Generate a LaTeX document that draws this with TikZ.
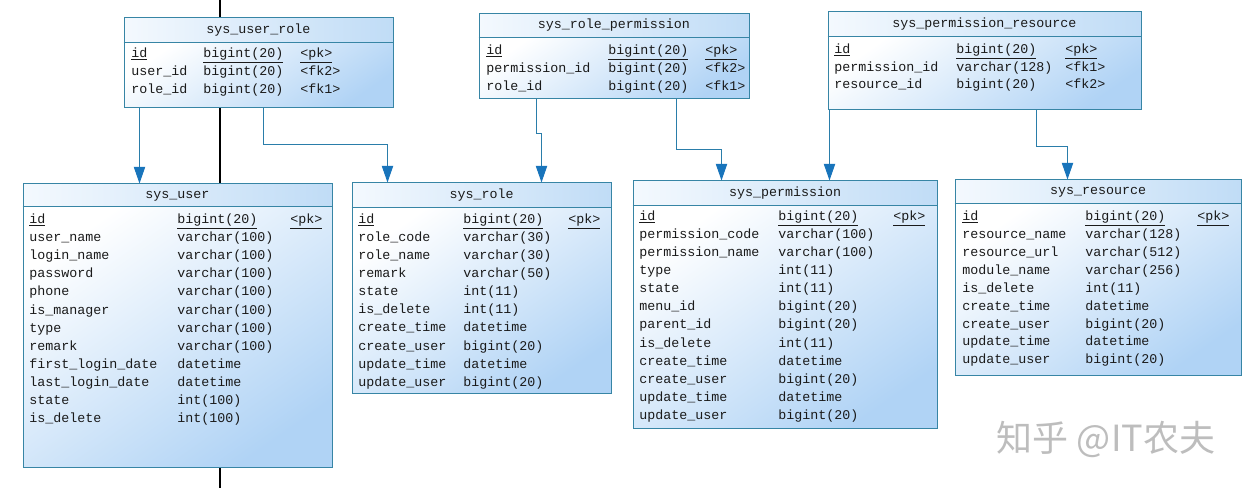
\documentclass[tikz,border=0pt]{standalone}
\usepackage{fontspec}
\setmonofont{Liberation Mono}
\newfontfamily\cjkfont{Noto Sans CJK SC}
\usetikzlibrary{fit,calc,arrows.meta}
\definecolor{bd}{HTML}{3785A5}
\definecolor{cn}{HTML}{2A7DAA}
\definecolor{ah}{HTML}{1874BB}
\definecolor{bodyblue}{HTML}{B0D3F5}
\definecolor{headl}{HTML}{F4F9FE}
\definecolor{headr}{HTML}{C0DCF6}
\definecolor{txt}{HTML}{1A1A1A}
\definecolor{wmark}{HTML}{BDBDBD}
\tikzset{
  tblbody/.style={inner sep=0pt, top color=white, bottom color=bodyblue, shading angle=35},
  tblhead/.style={inner sep=0pt, left color=headl, right color=headr},
  tblframe/.style={draw=bd, line width=0.75pt, inner sep=0pt},
  sepline/.style={draw=bd, line width=0.75pt},
  cell/.style={anchor=west, inner sep=0pt, text=txt, font=\ttfamily\fontsize{10}{12}\selectfont, text height=7.5pt, text depth=2.5pt},
  ttl/.style={anchor=center, inner sep=0pt, text=txt, font=\ttfamily\fontsize{10}{12}\selectfont, text height=7.5pt, text depth=2.5pt},
  conn/.style={draw=cn, line width=0.75pt, -{Triangle[width=8.5pt,length=12.5pt,fill=ah,color=ah]}},
}
\begin{document}
\begin{tikzpicture}[x=0.75pt,y=-0.75pt]
\useasboundingbox (0,0) rectangle (1252,488);
\fill[white] (0,0) rectangle (1252,488);
% stray vertical line
\coordinate (vtop) at (220,0);
\coordinate (vbot) at (220,488);
\draw[black, line width=0.8pt] (vtop) -- (vbot);

% ---------- sys_user_role ----------
\node[tblbody, fit={(124,42)(393,108)}] (ur-body) {};
\node[tblhead, fit={(124,18)(393,42)}] (ur-head) {};
\node[tblframe, fit={(124,18)(393,108)}] (ur) {};
\draw[sepline] (ur-head.south west) -- (ur-head.south east);
\node[ttl] (ur-t) at (ur-head.center) {sys\_user\_role};
\node[cell] (ur-a0) at (131,54) {\underline{id}};
\node[cell] (ur-b0) at (203,54) {\underline{bigint(20)}};
\node[cell] (ur-c0) at (300,54) {\underline{<pk>}};
\node[cell] (ur-a1) at (131,72) {user\_id};
\node[cell] (ur-b1) at (203,72) {bigint(20)};
\node[cell] (ur-c1) at (300,72) {<fk2>};
\node[cell] (ur-a2) at (131,90) {role\_id};
\node[cell] (ur-b2) at (203,90) {bigint(20)};
\node[cell] (ur-c2) at (300,90) {<fk1>};

% ---------- sys_role_permission ----------
\node[tblbody, fit={(479,37)(749,99)}] (rp-body) {};
\node[tblhead, fit={(479,14)(749,37)}] (rp-head) {};
\node[tblframe, fit={(479,14)(749,99)}] (rp) {};
\draw[sepline] (rp-head.south west) -- (rp-head.south east);
\node[ttl] (rp-t) at (rp-head.center) {sys\_role\_permission};
\node[cell] (rp-a0) at (486,51) {\underline{id}};
\node[cell] (rp-b0) at (608,51) {\underline{bigint(20)}};
\node[cell] (rp-c0) at (705,51) {\underline{<pk>}};
\node[cell] (rp-a1) at (486,69) {permission\_id};
\node[cell] (rp-b1) at (608,69) {bigint(20)};
\node[cell] (rp-c1) at (705,69) {<fk2>};
\node[cell] (rp-a2) at (486,87) {role\_id};
\node[cell] (rp-b2) at (608,87) {bigint(20)};
\node[cell] (rp-c2) at (705,87) {<fk1>};

% ---------- sys_permission_resource ----------
\node[tblbody, fit={(828,36)(1141,110)}] (pr-body) {};
\node[tblhead, fit={(828,12)(1141,36)}] (pr-head) {};
\node[tblframe, fit={(828,12)(1141,110)}] (pr) {};
\draw[sepline] (pr-head.south west) -- (pr-head.south east);
\node[ttl] (pr-t) at (pr-head.center) {sys\_permission\_resource};
\node[cell] (pr-a0) at (834,50) {\underline{id}};
\node[cell] (pr-b0) at (956,50) {\underline{bigint(20)}};
\node[cell] (pr-c0) at (1065,50) {\underline{<pk>}};
\node[cell] (pr-a1) at (834,68) {permission\_id};
\node[cell] (pr-b1) at (956,68) {varchar(128)};
\node[cell] (pr-c1) at (1065,68) {<fk1>};
\node[cell] (pr-a2) at (834,85) {resource\_id};
\node[cell] (pr-b2) at (956,85) {bigint(20)};
\node[cell] (pr-c2) at (1065,85) {<fk2>};

% ---------- sys_user ----------
\node[tblbody, fit={(23,206)(332,467)}] (su-body) {};
\node[tblhead, fit={(23,184)(332,206)}] (su-head) {};
\node[tblframe, fit={(23,184)(332,467)}] (su) {};
\draw[sepline] (su-head.south west) -- (su-head.south east);
\node[ttl] (su-t) at (su-head.center) {sys\_user};
\node[cell] (su-a0) at (29,220) {\underline{id}};
\node[cell] (su-b0) at (177,220) {\underline{bigint(20)}};
\node[cell] (su-c0) at (290,220) {\underline{<pk>}};
\foreach \a/\b [count=\i] in {user\_name/varchar(100), login\_name/varchar(100), password/varchar(100), phone/varchar(100), is\_manager/varchar(100), type/varchar(100), remark/varchar(100), first\_login\_date/datetime, last\_login\_date/datetime, state/int(100), is\_delete/int(100)} {
  \node[cell] (su-a\i) at (29,{220+\i*18.15}) {\a};
  \node[cell] (su-b\i) at (177,{220+\i*18.15}) {\b};
}

% ---------- sys_role ----------
\node[tblbody, fit={(352,207)(611,393)}] (sr-body) {};
\node[tblhead, fit={(352,183)(611,207)}] (sr-head) {};
\node[tblframe, fit={(352,183)(611,393)}] (sr) {};
\draw[sepline] (sr-head.south west) -- (sr-head.south east);
\node[ttl] (sr-t) at (sr-head.center) {sys\_role};
\node[cell] (sr-a0) at (358,220) {\underline{id}};
\node[cell] (sr-b0) at (463,220) {\underline{bigint(20)}};
\node[cell] (sr-c0) at (568,220) {\underline{<pk>}};
\foreach \a/\b [count=\i] in {role\_code/varchar(30), role\_name/varchar(30), remark/varchar(50), state/int(11), is\_delete/int(11), create\_time/datetime, create\_user/bigint(20), update\_time/datetime, update\_user/bigint(20)} {
  \node[cell] (sr-a\i) at (358,{220+\i*18.1}) {\a};
  \node[cell] (sr-b\i) at (463,{220+\i*18.1}) {\b};
}

% ---------- sys_permission ----------
\node[tblbody, fit={(633,205)(937,428)}] (sp-body) {};
\node[tblhead, fit={(633,181)(937,205)}] (sp-head) {};
\node[tblframe, fit={(633,181)(937,428)}] (sp) {};
\draw[sepline] (sp-head.south west) -- (sp-head.south east);
\node[ttl] (sp-t) at (sp-head.center) {sys\_permission};
\node[cell] (sp-a0) at (639,217) {\underline{id}};
\node[cell] (sp-b0) at (778,217) {\underline{bigint(20)}};
\node[cell] (sp-c0) at (893,217) {\underline{<pk>}};
\foreach \a/\b [count=\i] in {permission\_code/varchar(100), permission\_name/varchar(100), type/int(11), state/int(11), menu\_id/bigint(20), parent\_id/bigint(20), is\_delete/int(11), create\_time/datetime, create\_user/bigint(20), update\_time/datetime, update\_user/bigint(20)} {
  \node[cell] (sp-a\i) at (639,{217+\i*18.1}) {\a};
  \node[cell] (sp-b\i) at (778,{217+\i*18.1}) {\b};
}

% ---------- sys_resource ----------
\node[tblbody, fit={(955,203)(1241,375)}] (rs-body) {};
\node[tblhead, fit={(955,180)(1241,203)}] (rs-head) {};
\node[tblframe, fit={(955,180)(1241,375)}] (rs) {};
\draw[sepline] (rs-head.south west) -- (rs-head.south east);
\node[ttl] (rs-t) at (rs-head.center) {sys\_resource};
\node[cell] (rs-a0) at (962,217) {\underline{id}};
\node[cell] (rs-b0) at (1085,217) {\underline{bigint(20)}};
\node[cell] (rs-c0) at (1197,217) {\underline{<pk>}};
\foreach \a/\b [count=\i] in {resource\_name/varchar(128), resource\_url/varchar(512), module\_name/varchar(256), is\_delete/int(11), create\_time/datetime, create\_user/bigint(20), update\_time/datetime, update\_user/bigint(20)} {
  \node[cell] (rs-a\i) at (962,{217+\i*17.95}) {\a};
  \node[cell] (rs-b\i) at (1085,{217+\i*17.95}) {\b};
}

% ---------- connectors ----------
\draw[conn] ($(ur.south west)+(16,0)$) -- ($(su.north west)+(117,0)$);
\draw[conn] ($(ur.south west)+(140,0)$) -- ++(0,36) -| ($(sr.north west)+(36,0)$);
\draw[conn] ($(rp.south west)+(58,0)$) -- ++(0,34) -| ($(sr.north west)+(190,0)$);
\draw[conn] ($(rp.south west)+(198,0)$) -- ++(0,50) -| ($(sp.north west)+(89,0)$);
\draw[conn] ($(pr.south west)+(2,0)$) -- ($(sp.north west)+(197,0)$);
\draw[conn] ($(pr.south west)+(209,0)$) -- ++(0,36) -| ($(rs.north west)+(113,0)$);

% ---------- watermark ----------
\node[inner sep=0pt, text=wmark, font=\cjkfont\fontsize{27}{27}\selectfont] (wm) at (1106,439) {知乎 @IT农夫};
\end{tikzpicture}
\end{document}
